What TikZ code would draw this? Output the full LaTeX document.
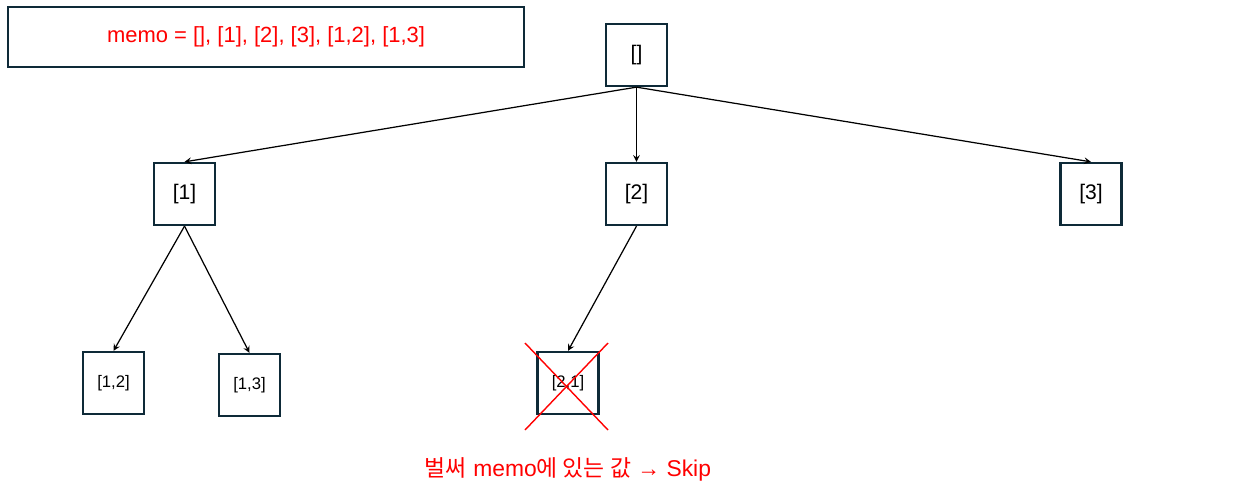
\documentclass[tikz,border=0pt]{standalone}
\usepackage{fontspec}
\setmainfont{Liberation Sans}
\newfontfamily\kor{Noto Sans CJK KR}
\usetikzlibrary{arrows,positioning}
\definecolor{boxline}{HTML}{0E2A38}
\begin{document}
\begin{tikzpicture}[x=0.02cm,y=-0.02cm,
  box/.style={draw=boxline,line width=1.3pt,minimum width=1.22cm,minimum height=1.24cm,inner sep=0pt,font=\fontsize{12}{14}\selectfont},
  small/.style={box,font=\fontsize{9.5}{11}\selectfont},
  edge/.style={-stealth,line width=0.7pt}]
\useasboundingbox (0,0) rectangle (1245,501);
\node[box,minimum width=10.32cm,minimum height=1.2cm,text=red,font=\fontsize{12.5}{14}\selectfont] (memo) at (266,37) {memo = [], [1], [2], [3], [1,2], [1,3]};
\node[box] (root) at (636.5,55) {[]};
\node[box] (one) at (184.5,194) {[1]};
\node[box] (two) at (636.5,194) {[2]};
\node[box] (three) at (1091,194) {[3]};
\node[small] (onetwo) at (113.5,383) {[1,2]};
\node[small] (onethree) at (249.5,385) {[1,3]};
\node[small] (twoone) at (568,383) {[2,1]};
\draw[edge] (root.south) -- (one.north);
\draw[edge] (root.south) -- (two.north);
\draw[edge] (root.south) -- (three.north);
\draw[edge] (one.south) -- (onetwo.north);
\draw[edge] (one.south) -- (onethree.north);
\draw[edge] (two.south) -- (twoone.north);
% crossed out
\draw[red,line width=0.8pt] (525,343) -- (608,430);
\draw[red,line width=0.8pt] (608,343) -- (525,430);
\node[text=red,font=\fontsize{13}{15}\selectfont] (skip) at (568,469) {{\kor 벌써} memo{\kor 에 있는 값} → Skip};
\end{tikzpicture}
\end{document}
